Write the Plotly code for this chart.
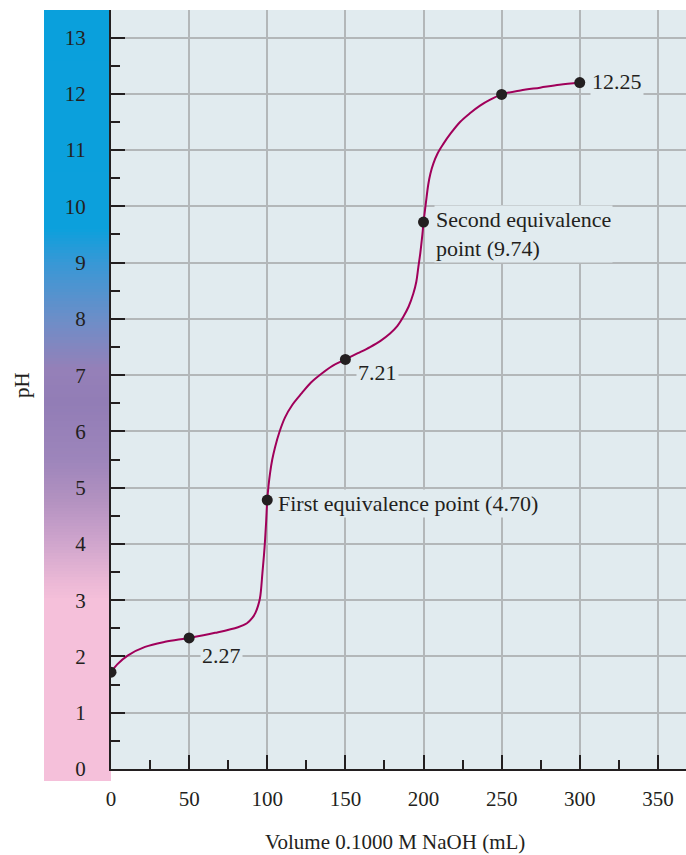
import plotly.graph_objects as go

# ---- data ----
curve_volume = [0, 4, 10.9, 21.8, 34.6, 50, 66.6, 81.3, 87.0, 90.3, 92.5, 94.1, 95.3, 96.0,
                96.9, 97.9, 98.6, 99.3, 100, 100.8, 101.8, 103.2, 105.0, 107.8, 111.4, 116.0,
                122.1, 128.0, 134.9, 142.0, 150, 158.0, 165.8, 172.5, 178.6, 183.2, 186.9,
                190.5, 193.5, 195.4, 196.7, 198.0, 198.9, 199.5, 200, 200.8, 201.7, 203.0,
                204.4, 206.3, 209.0, 212.7, 217.5, 223.4, 229.5, 236.2, 243.0, 250, 262.0,
                274.6, 287.0, 300]
curve_ph = [1.72, 1.86, 2.02, 2.17, 2.26, 2.33, 2.42, 2.52, 2.59, 2.68, 2.78, 2.90, 3.03,
            3.18, 3.48, 3.80, 4.07, 4.40, 4.78, 5.03, 5.26, 5.50, 5.72, 5.99, 6.25, 6.47,
            6.68, 6.87, 7.03, 7.17, 7.28, 7.39, 7.50, 7.61, 7.74, 7.87, 8.03, 8.22, 8.45,
            8.66, 8.92, 9.18, 9.40, 9.56, 9.72, 9.90, 10.10, 10.38, 10.58, 10.76, 10.94,
            11.11, 11.30, 11.50, 11.65, 11.79, 11.90, 11.99, 12.06, 12.11, 12.16, 12.20]

point_volume = [0, 50, 100, 150, 200, 250, 300]
point_ph = [1.72, 2.33, 4.78, 7.28, 9.72, 11.99, 12.20]

label_volume = [50, 100, 150, 200, 300]
label_ph = [2.33, 4.78, 7.28, 9.72, 12.20]
label_text = ["2.27", "First equivalence point (4.70)", "7.21",
              "Second equivalence<br>point (9.74)", "12.25"]

y_ticks = list(range(0, 14))
x_ticks = [0, 50, 100, 150, 200, 250, 300, 350]

# ---- style ----
INK = "#231f20"
BG = "#e1ebef"
GRID = "#b3b7b9"
FONT = "Liberation Serif"
FS = 22
Y_MAX = 13.49
X_MAX = 368

fig = go.Figure()
fig.add_trace(go.Scatter(x=curve_volume, y=curve_ph, mode="lines",
                         line=dict(color="#a0005a", width=2, shape="spline", smoothing=1.0),
                         hoverinfo="skip", showlegend=False))
fig.add_trace(go.Scatter(x=point_volume, y=point_ph, mode="markers",
                         marker=dict(color=INK, size=11), showlegend=False))

# colour strip (pH indicator gradient) behind the y tick labels
stops = [(-0.3, (245, 192, 218)), (3.0, (245, 192, 218)), (3.3, (236, 185, 214)),
         (4.2, (200, 160, 202)), (4.8, (178, 145, 192)), (5.5, (157, 133, 187)),
         (6.5, (146, 125, 182)), (7.1, (149, 128, 184)), (8.0, (108, 142, 200)),
         (9.0, (55, 152, 214)), (9.6, (12, 160, 220)), (13.6, (10, 160, 220))]


def col_at(p):
    for (p0, c0), (p1, c1) in zip(stops[:-1], stops[1:]):
        if p0 <= p <= p1:
            t = (p - p0) / (p1 - p0)
            return "rgb(%d,%d,%d)" % tuple(round(a + (b - a) * t) for a, b in zip(c0, c1))
    return "rgb(%d,%d,%d)" % stops[-1][1]


shapes = []
plot_h = 759.0
plot_w = 575.0
x_left = -(111 - 44) / plot_w
bottom_px = -12.0
top_px = plot_h
step = 3.0
y = bottom_px
while y < top_px:
    y1 = min(y + step, top_px)
    ph_mid = (y + y1) / 2 / plot_h * Y_MAX
    shapes.append(dict(type="rect", xref="paper", yref="paper", x0=x_left, x1=0,
                       y0=y / plot_h, y1=min(y1 + 0.8, top_px) / plot_h,
                       fillcolor=col_at(ph_mid), line=dict(width=0), layer="below"))
    y = y1

annotations = []
for xv, yv, txt in zip(label_volume, label_ph, label_text):
    if txt == "2.27":
        xs, ys = 11, -18
    elif txt == "7.21":
        xs, ys = 11, -13
    elif txt.startswith("Second"):
        xs, ys = 10, -12
    elif txt.startswith("First"):
        xs, ys = 9, -3
    else:
        xs, ys = 10, 1
    annotations.append(dict(x=xv, y=yv, xref="x", yref="y", text=txt, showarrow=False,
                            xanchor="left", yanchor="middle", align="left",
                            xshift=xs, yshift=ys, bgcolor=BG, borderpad=1,
                            font=dict(family=FONT, size=FS, color=INK)))

annotations.append(dict(x=(395 - 111) / plot_w, y=(769 - 842) / plot_h, xref="paper", yref="paper",
                        text="Volume 0.1000 M NaOH (mL)", showarrow=False,
                        xanchor="center", yanchor="middle", borderpad=0,
                        font=dict(family=FONT, size=FS - 1, color=INK)))
annotations.append(dict(x=(22 - 111) / plot_w, y=(769 - 385) / plot_h, xref="paper", yref="paper",
                        text="pH", showarrow=False, textangle=-90,
                        xanchor="center", yanchor="middle",
                        font=dict(family=FONT, size=FS - 1, color=INK)))

fig.update_layout(
    width=686, height=855,
    margin=dict(l=111, r=0, t=10, b=86),
    paper_bgcolor="white", plot_bgcolor=BG,
    font=dict(family=FONT, size=FS - 1, color=INK),
    shapes=shapes, annotations=annotations, showlegend=False,
    xaxis=dict(range=[0, X_MAX], tickvals=x_ticks, ticks="inside", ticklen=14, tickwidth=2,
               tickcolor=INK, showline=True, linewidth=2, linecolor=INK, mirror=False,
               showgrid=True, gridcolor=GRID, gridwidth=1.5, zeroline=False,
               ticklabelstandoff=10,
               minor=dict(dtick=25, ticks="inside", ticklen=9, tickwidth=2, tickcolor=INK,
                          showgrid=False)),
    yaxis=dict(range=[0, Y_MAX], tickvals=y_ticks, ticks="inside", ticklen=14, tickwidth=2,
               tickcolor=INK, showline=True, linewidth=2, linecolor=INK,
               showgrid=True, gridcolor=GRID, gridwidth=1.5, zeroline=False,
               ticklabelstandoff=19,
               minor=dict(dtick=0.5, ticks="inside", ticklen=9, tickwidth=2, tickcolor=INK,
                          showgrid=False)),
)

fig.write_html("out.html", config={"displayModeBar": False},
               post_script="document.body.style.margin='0';document.body.style.overflow='hidden';")
